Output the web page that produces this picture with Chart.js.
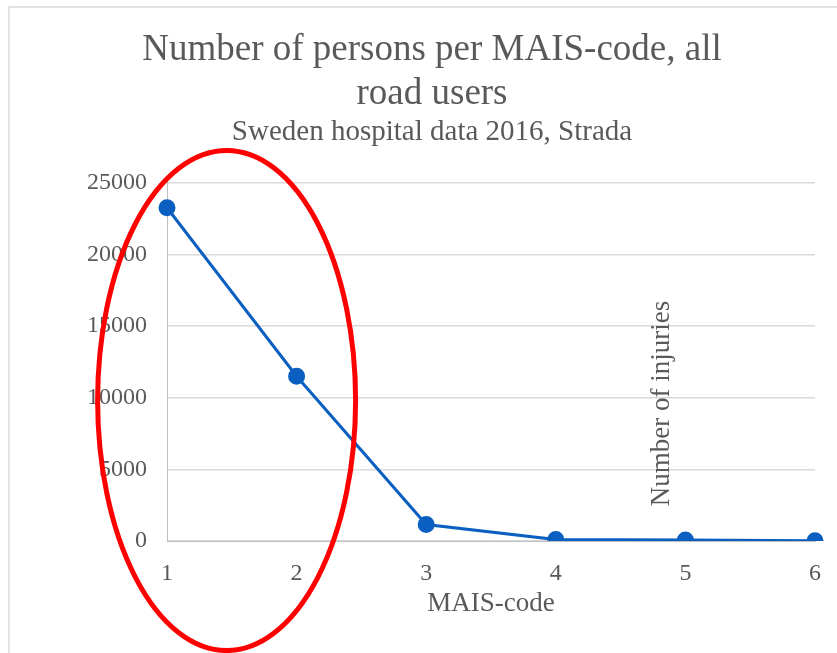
<!DOCTYPE html>
<html>
<head>
<meta charset="utf-8">
<script src="https://cdn.jsdelivr.net/npm/chart.js@4"></script>
<style>
  html, body { margin: 0; padding: 0; background: #fff; }
  #wrap { width: 837px; height: 653px; position: relative; }
</style>
</head>
<body>
<div id="wrap"><canvas id="myChart"></canvas></div>
<script>
// chart data
const maisCodes = ['1', '2', '3', '4', '5', '6'];
const injuries = [23250, 11500, 1150, 100, 70, 10];
const yTicks = [0, 5000, 10000, 15000, 20000, 25000];

const titleLines = ['Number of persons per MAIS-code, all', 'road users'];
const subtitleText = 'Sweden hospital data 2016, Strada';
const xTitle = 'MAIS-code';
const yTitle = 'Number of injuries';

const serif = "'Liberation Serif', 'Times New Roman', serif";
const grey = '#595959';

// frame, stray axis title and the red ellipse
const extras = {
  id: 'extras',
  beforeDraw(chart) {
    const c = chart.ctx;
    c.save();
    c.strokeStyle = '#d9d9d9';
    c.lineWidth = 1.5;
    c.beginPath();
    c.moveTo(9, 653);
    c.lineTo(9, 7);
    c.lineTo(837, 7);
    c.stroke();
    c.restore();
  },
  afterDraw(chart) {
    const c = chart.ctx;
    const x = chart.scales.x;
    const y = chart.scales.y;
    const step = x.getPixelForValue(1) - x.getPixelForValue(0);

    // y axis title sitting inside the plot, between 4 and 5
    const tx = x.getPixelForValue(3) + step * 0.82;
    const ty = y.getPixelForValue(9600);
    c.save();
    c.translate(tx, ty);
    c.rotate(-Math.PI / 2);
    c.font = '27px ' + serif;
    c.fillStyle = grey;
    c.textAlign = 'center';
    c.textBaseline = 'middle';
    c.fillText(yTitle, 0, 0);
    c.restore();

    // red ellipse around MAIS 1-2
    const cx = x.getPixelForValue(0) + step * 0.46;
    const cy = y.getPixelForValue(9800);
    c.save();
    c.strokeStyle = '#ff0000';
    c.lineWidth = 5;
    c.beginPath();
    c.ellipse(cx, cy, 129, 250, 0, 0, Math.PI * 2);
    c.stroke();
    c.restore();
  }
};

const ctx = document.getElementById('myChart').getContext('2d');

const chart = new Chart(ctx, {
  type: 'line',
  data: {
    labels: maisCodes,
    datasets: [{
      label: yTitle,
      data: injuries,
      borderColor: '#0a5fc0',
      backgroundColor: '#0a5fc0',
      borderWidth: 3,
      pointRadius: 7,
      pointHoverRadius: 7,
      tension: 0
    }]
  },
  options: {
    responsive: true,
    maintainAspectRatio: false,
    animation: false,
    // titles in the reference sit a bit right of centre
    layout: { padding: { left: 27, right: 0, top: 0, bottom: 33 } },
    plugins: {
      legend: { display: false },
      tooltip: { enabled: false },
      title: {
        display: true,
        text: titleLines,
        color: grey,
        font: { family: serif, size: 37, weight: 'normal', lineHeight: 1.2 },
        padding: { top: 28, bottom: 0 }
      },
      subtitle: {
        display: true,
        text: subtitleText,
        color: grey,
        font: { family: serif, size: 29, weight: 'normal', lineHeight: 1.1 },
        padding: { top: 0, bottom: 34 }
      }
    },
    scales: {
      x: {
        offset: false,
        grid: { display: false },
        border: { display: true, color: '#bfbfbf', width: 1 },
        ticks: {
          color: grey,
          padding: 10,
          maxRotation: 0,
          font: { family: serif, size: 24 }
        },
        title: {
          display: true,
          text: xTitle,
          color: grey,
          padding: { top: 4, bottom: 0 },
          font: { family: serif, size: 27 }
        },
        afterFit(scale) { scale.height = 79; }
      },
      y: {
        min: 0,
        max: 25000,
        afterBuildTicks(scale) { scale.ticks = yTicks.map(v => ({ value: v })); },
        grid: { color: '#d9d9d9', lineWidth: 1.5, drawTicks: false },
        border: { display: true, color: '#bfbfbf', width: 1 },
        ticks: {
          color: grey,
          padding: 20,
          font: { family: serif, size: 24 },
          callback: v => String(v)
        },
        afterFit(scale) { scale.width = 140; }
      },
      // empty right-hand spacer so the plot stops short of the edge
      spacer: {
        type: 'linear',
        position: 'right',
        grid: { display: false },
        border: { display: false },
        ticks: { display: false },
        afterFit(scale) { scale.width = 22; }
      }
    }
  },
  plugins: [extras]
});
</script>
</body>
</html>
